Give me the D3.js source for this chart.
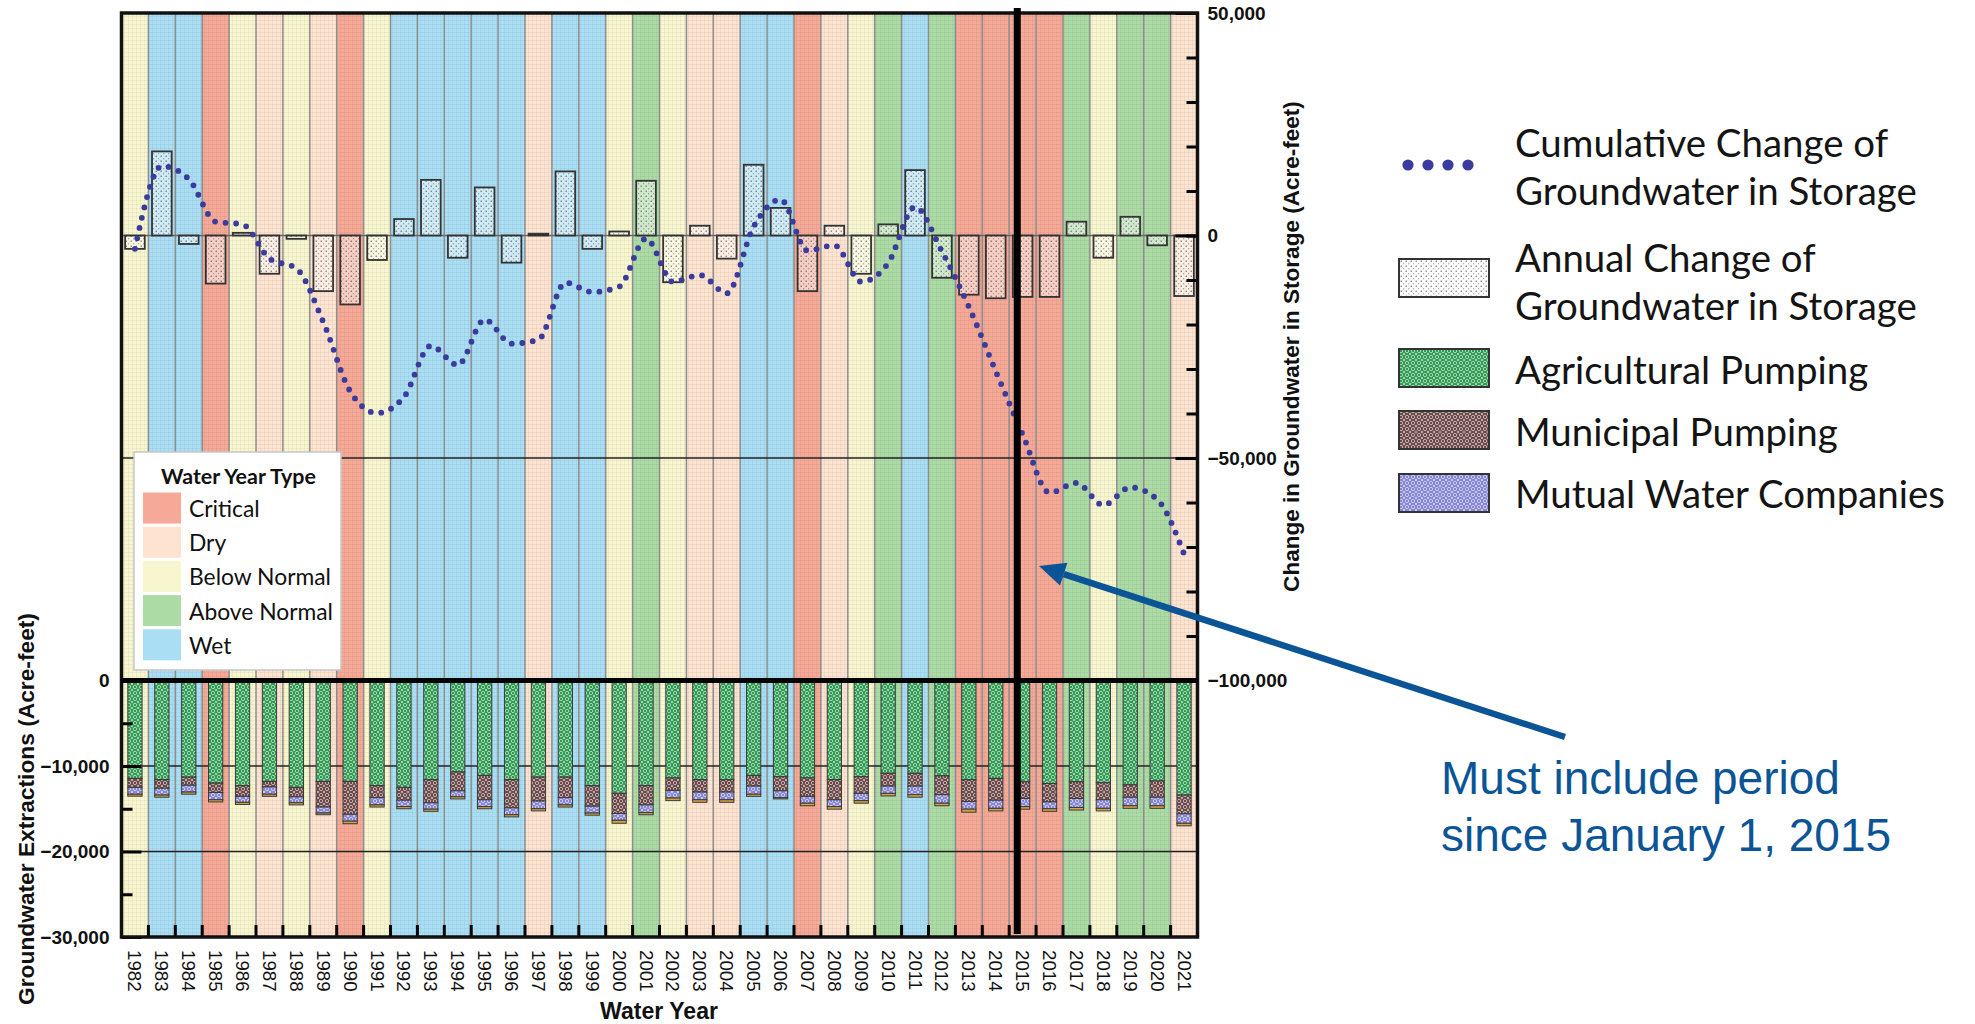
<!DOCTYPE html>
<html>
<head>
<meta charset="utf-8">
<script src="https://cdn.jsdelivr.net/npm/d3@7"></script>
<style>
  body { margin: 0; background: #fff; }
  svg { display: block; }
</style>
</head>
<body>
<svg id="chart" width="1975" height="1024"></svg>
<script>
// ---- data ----
var years = [1982, 1983, 1984, 1985, 1986, 1987, 1988, 1989, 1990, 1991,
             1992, 1993, 1994, 1995, 1996, 1997, 1998, 1999, 2000, 2001,
             2002, 2003, 2004, 2005, 2006, 2007, 2008, 2009, 2010, 2011,
             2012, 2013, 2014, 2015, 2016, 2017, 2018, 2019, 2020, 2021];

var yearType = ["BN", "W", "W", "C", "BN", "D", "BN", "D", "C", "BN",
                "W", "W", "W", "W", "W", "D", "W", "W", "BN", "AN",
                "BN", "D", "D", "W", "W", "C", "D", "BN", "AN", "W",
                "AN", "C", "C", "C", "C", "AN", "BN", "AN", "AN", "D"];

var annualChange = [-3000, 18900, -1900, -10800, 600, -8600, -750, -12500, -15500, -5500,
                    3700, 12500, -5000, 10800, -6100, 400, 14400, -3000, 900, 12300,
                    -10500, 2200, -5200, 15900, 6200, -12500, 2200, -8600, 2500, 14700,
                    -9500, -13300, -14100, -13800, -13800, 3100, -5000, 4200, -2200, -13600];

var cumulativeChange = [-3000, 15600, 12700, 3100, 2500, -5200, -7400, -19400, -35000, -39900,
                        -36300, -24800, -29100, -18900, -24300, -23400, -10600, -12700, -11500, -700,
                        -10400, -8900, -13000, 2000, 8100, -3400, -2200, -10400, -6200, 6400,
                        -3600, -16000, -30500, -44700, -57800, -55600, -60600, -56600, -59300, -71600];

var agPumping = [11450, 11600, 11300, 12000, 12300, 11800, 12500, 11800, 11800, 12300,
                 12500, 11600, 10700, 11100, 11600, 11300, 11300, 12300, 13200, 12300,
                 11400, 11600, 11600, 11100, 11250, 11400, 11600, 11250, 10850, 10850,
                 11150, 11600, 11450, 11850, 12050, 11850, 11950, 12200, 11750, 13400];

var munPumping = [1050, 1000, 950, 1100, 1250, 650, 1100, 3000, 3850, 1400,
                  1500, 2700, 2200, 2850, 3300, 2800, 2400, 2400, 2350, 2250,
                  1450, 1450, 1450, 1250, 1650, 2150, 2350, 1950, 1500, 1500,
                  2200, 2550, 2550, 1950, 2150, 1950, 2000, 1450, 1900, 2200];

var mutualPumping = [800, 800, 800, 850, 700, 850, 700, 700, 800, 850,
                     750, 750, 700, 800, 800, 900, 850, 800, 800, 900,
                     900, 900, 900, 950, 800, 800, 800, 850, 850, 1000,
                     1000, 900, 950, 950, 800, 1050, 1000, 1000, 1000, 1100];

var otherPumping = [230, 250, 250, 250, 250, 250, 250, 200, 300, 250,
                    250, 250, 250, 250, 250, 250, 250, 250, 350, 250,
                    300, 300, 300, 250, 150, 300, 300, 300, 300, 300,
                    300, 350, 300, 300, 300, 300, 300, 300, 300, 300];

var storageTicks = [50000, 0, -50000, -100000];
var extractionTicks = [0, -10000, -20000, -30000];

var typeKeys = ["C", "D", "BN", "AN", "W"];
var typeNames = ["Critical", "Dry", "Below Normal", "Above Normal", "Wet"];
var typeColors = ["#f5a996", "#fde3d0", "#f8f6cf", "#acdba5", "#a9def4"];

var periodStart = 2015.3;   // Jan 1, 2015 within water year 2015

// ---- layout ----
var svg = d3.select("#chart");
var plotLeft = 121.5, plotRight = 1197.5, plotTop = 13, plotMid = 680.5, plotBottom = 937;
var sansFont = "'Liberation Sans', Arial, sans-serif";
var legendFont = "Lato, 'Open Sans', sans-serif";

var x = d3.scaleBand().domain(years).range([plotLeft, plotRight]).padding(0);
var xYear = d3.scaleLinear().domain([1982, 2022]).range([plotLeft, plotRight]);
var yTop = d3.scaleLinear().domain([-100000, 50000]).range([plotMid, plotTop]);
var yBot = d3.scaleLinear().domain([-30000, 0]).range([plotBottom, plotMid]);
var typeColor = d3.scaleOrdinal().domain(typeKeys).range(typeColors);

function fitFont(sel, target) {
    var w = sel.node().getComputedTextLength();
    var fs = parseFloat(sel.attr("font-size"));
    return fs * target / w;
}

// ---- patterns ----
var defs = svg.append("defs");

var stip = defs.append("pattern").attr("id", "stipple")
    .attr("width", 5).attr("height", 5).attr("patternUnits", "userSpaceOnUse");
stip.append("rect").attr("width", 5).attr("height", 5).attr("fill", "#fff").attr("fill-opacity", 0.45);
stip.append("circle").attr("cx", 1.2).attr("cy", 1.2).attr("r", 0.65).attr("fill", "#444");
stip.append("circle").attr("cx", 3.7).attr("cy", 3.7).attr("r", 0.55).attr("fill", "#666");

function lattice(id, base) {
    var p = defs.append("pattern").attr("id", id)
        .attr("width", 6).attr("height", 6).attr("patternUnits", "userSpaceOnUse");
    p.append("rect").attr("width", 6).attr("height", 6).attr("fill", base);
    p.append("circle").attr("cx", 3).attr("cy", 3).attr("r", 1.7)
        .attr("fill", "none").attr("stroke", "#fff").attr("stroke-width", 0.7).attr("stroke-opacity", 0.8);
    p.append("path").attr("d", "M0,0L1,1M6,0L5,1M0,6L1,5M6,6L5,5")
        .attr("stroke", "#fff").attr("stroke-width", 0.7).attr("stroke-opacity", 0.8);
}
lattice("agPat", "#2f9b52");
lattice("munPat", "#6c4747");
lattice("mutPat", "#8585d6");

// faint grid texture over the bands
var tex = defs.append("pattern").attr("id", "texture")
    .attr("width", 4).attr("height", 4).attr("patternUnits", "userSpaceOnUse");
tex.append("path").attr("d", "M0,0.5H4M0.5,0V4")
    .attr("stroke", "#000").attr("stroke-opacity", 0.04).attr("stroke-width", 1);

// ---- water year type bands ----
var bands = years.map(function (yr, i) { return { year: yr, type: yearType[i] }; });

svg.append("g").selectAll("rect").data(bands).join("rect")
    .attr("x", function (d) { return x(d.year); })
    .attr("y", plotTop)
    .attr("width", x.bandwidth())
    .attr("height", plotBottom - plotTop)
    .attr("fill", function (d) { return typeColor(d.type); });
svg.append("rect").attr("x", plotLeft).attr("y", plotTop)
    .attr("width", plotRight - plotLeft).attr("height", plotBottom - plotTop)
    .attr("fill", "url(#texture)");

svg.append("g").selectAll("line").data(years.slice(1)).join("line")
    .attr("x1", function (d) { return x(d); })
    .attr("x2", function (d) { return x(d); })
    .attr("y1", plotTop).attr("y2", plotBottom)
    .attr("stroke", "#8e8e8e").attr("stroke-width", 1.5);

// ---- gridlines ----
svg.append("line").attr("x1", plotLeft).attr("x2", plotRight)
    .attr("y1", yTop(0)).attr("y2", yTop(0))
    .attr("stroke", "#666").attr("stroke-width", 1.5);
svg.append("line").attr("x1", plotLeft).attr("x2", plotRight)
    .attr("y1", yTop(-50000)).attr("y2", yTop(-50000))
    .attr("stroke", "#222").attr("stroke-width", 1.3);
svg.append("g").selectAll("line").data([-10000, -20000]).join("line")
    .attr("x1", plotLeft).attr("x2", plotRight)
    .attr("y1", function (d) { return yBot(d); })
    .attr("y2", function (d) { return yBot(d); })
    .attr("stroke", "#222").attr("stroke-width", 1.3);

// ---- annual change bars ----
var annual = years.map(function (yr, i) { return { year: yr, v: annualChange[i] }; });
var aw = x.bandwidth() * 0.73;

svg.append("g").selectAll("rect").data(annual).join("rect")
    .attr("x", function (d) { return x(d.year) + (x.bandwidth() - aw) / 2; })
    .attr("y", function (d) { return yTop(Math.max(0, d.v)); })
    .attr("width", aw)
    .attr("height", function (d) { return Math.abs(yTop(d.v) - yTop(0)); })
    .attr("fill", "url(#stipple)")
    .attr("stroke", "#333").attr("stroke-width", 1.8);

// ---- cumulative change (dotted curve) ----
var cum = years.map(function (yr, i) { return { year: yr, v: cumulativeChange[i] }; });
var line = d3.line()
    .x(function (d) { return x(d.year) + x.bandwidth() / 2; })
    .y(function (d) { return yTop(d.v); })
    .curve(d3.curveMonotoneX);

svg.append("path").datum(cum)
    .attr("d", line)
    .attr("fill", "none")
    .attr("stroke", "#3b3b9d")
    .attr("stroke-width", 5.8)
    .attr("stroke-linecap", "round")
    .attr("stroke-dasharray", "0 10.6");

// ---- extraction stacked bars ----
var pumpKeys = ["ag", "mun", "mut", "oth"];
var pumpFill = { ag: "url(#agPat)", mun: "url(#munPat)", mut: "url(#mutPat)", oth: "#d6a33e" };
var pumpRows = years.map(function (yr, i) {
    return { year: yr, ag: -agPumping[i], mun: -munPumping[i], mut: -mutualPumping[i], oth: -otherPumping[i] };
});
var stacked = d3.stack().keys(pumpKeys).offset(d3.stackOffsetDiverging)(pumpRows);
var bw = x.bandwidth() * 0.53;

svg.append("g").selectAll("g").data(stacked).join("g")
    .attr("fill", function (s) { return pumpFill[s.key]; })
    .selectAll("rect").data(function (s) { return s; }).join("rect")
    .attr("x", function (d) { return x(d.data.year) + (x.bandwidth() - bw) / 2; })
    .attr("y", function (d) { return yBot(d[1]); })
    .attr("width", bw)
    .attr("height", function (d) { return yBot(d[0]) - yBot(d[1]); })
    .attr("stroke", "#3a3a3a").attr("stroke-width", 1);

// ---- axes ----
var rightAxis = svg.append("g").attr("transform", "translate(" + plotRight + ",0)")
    .call(d3.axisRight(yTop).tickValues(storageTicks).tickFormat(d3.format(","))
        .tickSizeInner(-22).tickPadding(10));
rightAxis.select(".domain").remove();
rightAxis.selectAll("line").attr("stroke", "#000").attr("stroke-width", 3);
rightAxis.selectAll("text").attr("font-family", sansFont).attr("font-size", 19)
    .attr("font-weight", "bold").attr("fill", "#111");

var rightMinor = svg.append("g").attr("transform", "translate(" + plotRight + ",0)")
    .call(d3.axisRight(yTop).ticks(15).tickFormat("").tickSizeInner(-11));
rightMinor.select(".domain").remove();
rightMinor.selectAll("line").attr("stroke", "#000").attr("stroke-width", 3);

var leftAxis = svg.append("g").attr("transform", "translate(" + plotLeft + ",0)")
    .call(d3.axisLeft(yBot).tickValues(extractionTicks).tickFormat(d3.format(","))
        .tickSizeInner(-20).tickPadding(12));
leftAxis.select(".domain").remove();
leftAxis.selectAll("line").attr("stroke", "#000").attr("stroke-width", 3);
leftAxis.selectAll("text").attr("font-family", sansFont).attr("font-size", 19)
    .attr("font-weight", "bold").attr("fill", "#111");

var leftMinor = svg.append("g").attr("transform", "translate(" + plotLeft + ",0)")
    .call(d3.axisLeft(yBot).tickValues([-5000, -15000, -25000]).tickFormat("").tickSizeInner(-11));
leftMinor.select(".domain").remove();
leftMinor.selectAll("line").attr("stroke", "#000").attr("stroke-width", 3);

// year labels
var xAxis = svg.append("g").attr("transform", "translate(0," + plotBottom + ")")
    .call(d3.axisBottom(x).tickSize(0).tickPadding(0));
xAxis.select(".domain").remove();
xAxis.selectAll("text")
    .attr("font-family", sansFont).attr("font-size", 18.7).attr("fill", "#111")
    .attr("text-anchor", "start")
    .attr("transform", "translate(0,13) rotate(90)")
    .attr("x", 0).attr("y", 0).attr("dy", "0.35em");

// boundary ticks at the bottom
svg.append("g").selectAll("line").data(years.slice(1)).join("line")
    .attr("x1", function (d) { return x(d); })
    .attr("x2", function (d) { return x(d); })
    .attr("y1", plotBottom - 12).attr("y2", plotBottom)
    .attr("stroke", "#000").attr("stroke-width", 3);

// frame and panel divider
svg.append("rect").attr("x", plotLeft).attr("y", plotTop)
    .attr("width", plotRight - plotLeft).attr("height", plotBottom - plotTop)
    .attr("fill", "none").attr("stroke", "#111").attr("stroke-width", 3.5);
svg.append("line").attr("x1", plotLeft).attr("x2", plotRight)
    .attr("y1", plotMid).attr("y2", plotMid)
    .attr("stroke", "#000").attr("stroke-width", 5);

// Jan 1 2015 marker
svg.append("line")
    .attr("x1", xYear(periodStart)).attr("x2", xYear(periodStart))
    .attr("y1", plotTop - 5).attr("y2", plotBottom - 3)
    .attr("stroke", "#000").attr("stroke-width", 7);

// ---- axis titles ----
var t1 = svg.append("text")
    .attr("transform", "translate(1291,346.5) rotate(-90)")
    .attr("text-anchor", "middle").attr("dominant-baseline", "central")
    .attr("font-family", sansFont).attr("font-weight", "bold").attr("font-size", 20)
    .attr("fill", "#111")
    .text("Change in Groundwater in Storage (Acre-feet)");
t1.attr("font-size", fitFont(t1, 491));

var t2 = svg.append("text")
    .attr("transform", "translate(26,809) rotate(-90)")
    .attr("text-anchor", "middle").attr("dominant-baseline", "central")
    .attr("font-family", sansFont).attr("font-weight", "bold").attr("font-size", 20)
    .attr("fill", "#111")
    .text("Groundwater Extractions (Acre-feet)");
t2.attr("font-size", fitFont(t2, 392));

var t3 = svg.append("text")
    .attr("x", 659).attr("y", 1011)
    .attr("text-anchor", "middle").attr("dominant-baseline", "central")
    .attr("font-family", sansFont).attr("font-weight", "bold").attr("font-size", 20)
    .attr("fill", "#111")
    .text("Water Year");
t3.attr("font-size", fitFont(t3, 118));

// ---- water year type legend ----
var wl = svg.append("g");
wl.append("rect").attr("x", 134).attr("y", 452).attr("width", 207).attr("height", 218)
    .attr("fill", "#fff").attr("stroke", "#c6c6c6").attr("stroke-width", 1.5);
var wlTitle = wl.append("text").attr("x", 238.5).attr("y", 476)
    .attr("text-anchor", "middle").attr("dominant-baseline", "central")
    .attr("font-family", legendFont).attr("font-weight", "bold").attr("font-size", 20)
    .attr("fill", "#111").text("Water Year Type");
wlTitle.attr("font-size", fitFont(wlTitle, 155));

var wlItems = wl.selectAll("g.item").data(typeKeys).join("g").attr("class", "item")
    .attr("transform", function (d, i) { return "translate(0," + (508 + i * 34.2) + ")"; });
wlItems.append("rect").attr("x", 143).attr("y", -15.5).attr("width", 38).attr("height", 31)
    .attr("fill", function (d) { return typeColor(d); });
var wlLabels = wlItems.append("text").attr("x", 189).attr("y", 0)
    .attr("dominant-baseline", "central")
    .attr("font-family", legendFont).attr("font-size", 20).attr("fill", "#111")
    .text(function (d, i) { return typeNames[i]; });
var wlSize = fitFont(wlLabels.filter(function (d) { return d === "BN"; }), 142);
wlLabels.attr("font-size", wlSize);

// ---- series legend ----
var sl = svg.append("g");
var seriesLines = [
    ["Cumulative Change of", 141.5], ["Groundwater in Storage", 190],
    ["Annual Change of", 256.5], ["Groundwater in Storage", 305],
    ["Agricultural Pumping", 368.5], ["Municipal Pumping", 431], ["Mutual Water Companies", 493]
];
var slText = sl.selectAll("text").data(seriesLines).join("text")
    .attr("x", 1515).attr("y", function (d) { return d[1]; })
    .attr("dominant-baseline", "central")
    .attr("font-family", legendFont).attr("font-size", 30).attr("fill", "#141414")
    .text(function (d) { return d[0]; });
var slSize = fitFont(slText.filter(function (d) { return d[0] === "Mutual Water Companies"; }), 430);
slText.attr("font-size", slSize);

sl.selectAll("circle").data([0, 1, 2, 3]).join("circle")
    .attr("cx", function (d) { return 1408 + d * 20; }).attr("cy", 165).attr("r", 5.6)
    .attr("fill", "#3b3b9d");

var swatches = [["url(#stipple)", 259], ["url(#agPat)", 349], ["url(#munPat)", 411], ["url(#mutPat)", 474]];
sl.selectAll("rect").data(swatches).join("rect")
    .attr("x", 1399).attr("y", function (d) { return d[1]; })
    .attr("width", 90).attr("height", 38)
    .attr("fill", function (d) { return d[0]; })
    .attr("stroke", "#333").attr("stroke-width", 2);

// ---- annotation ----
var tip = [1039, 566], tail = [1565, 737];
var ang = Math.atan2(tip[1] - tail[1], tip[0] - tail[0]);
var ux = Math.cos(ang), uy = Math.sin(ang);
var hl = 26, hw = 12;
var base = [tip[0] - ux * hl, tip[1] - uy * hl];
svg.append("line")
    .attr("x1", tail[0]).attr("y1", tail[1]).attr("x2", base[0]).attr("y2", base[1])
    .attr("stroke", "#0b5597").attr("stroke-width", 6.5);
svg.append("path")
    .attr("d", "M" + tip + "L" + [base[0] - uy * hw, base[1] + ux * hw] +
               "L" + [base[0] + uy * hw, base[1] - ux * hw] + "Z")
    .attr("fill", "#0b5597");

svg.append("text").attr("x", 1441).attr("y", 794)
    .attr("font-family", sansFont).attr("font-size", 46).attr("fill", "#0b5597")
    .text("Must include period");
svg.append("text").attr("x", 1441).attr("y", 851)
    .attr("font-family", sansFont).attr("font-size", 46).attr("fill", "#0b5597")
    .text("since January 1, 2015");
</script>
</body>
</html>
